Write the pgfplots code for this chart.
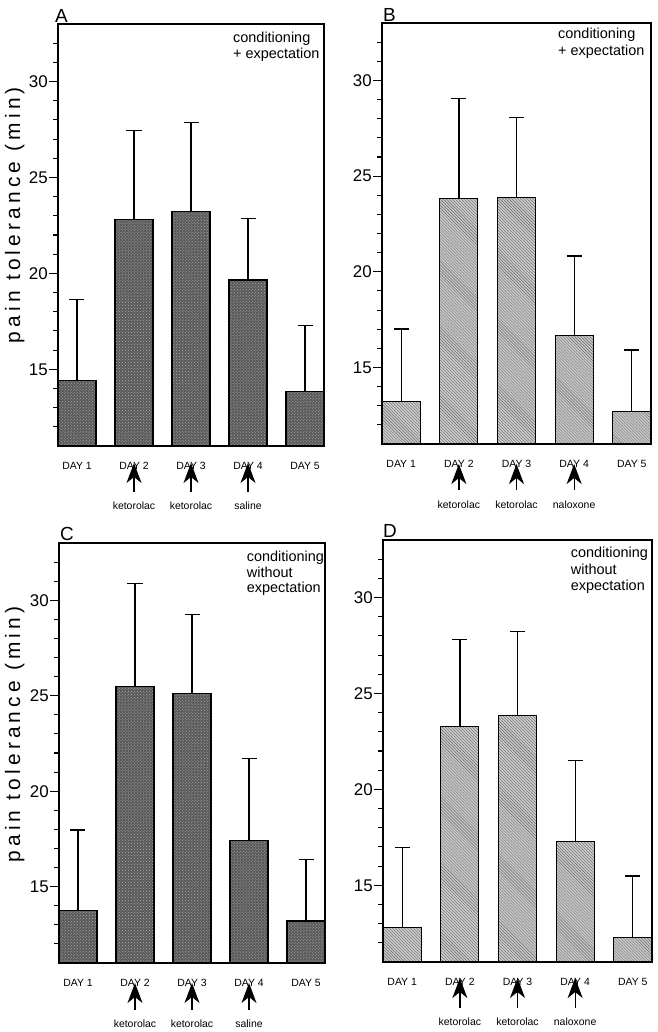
\documentclass[border=0pt]{standalone}
\usepackage{fontspec}
\setmainfont{Liberation Sans}
\newfontfamily\spacedfont[LetterSpace=20]{Liberation Sans}
\usepackage{pgfplots}
\pgfplotsset{compat=1.18}
\usetikzlibrary{arrows.meta,patterns}

\pgfplotsset{
  panel/.style={
    scale only axis,
    ymin=11, ymax=33, xmin=-0.3333, xmax=4.3333,
    ytick={15,20,25,30}, minor ytick={12,...,32},
    ytick pos=left, yticklabel pos=left, tick align=outside,
    major tick length=9bp, minor tick length=5bp,
    xtick={0,...,4}, xticklabels={DAY 1,DAY 2,DAY 3,DAY 4,DAY 5},
    xtick style={draw=none},
    every tick/.style={line width=1.1bp, black},
    axis line style={line width=1.2bp},
    yticklabel style={font=\fontsize{17}{17}\selectfont, anchor=east, inner sep=1bp},
    xticklabel style={font=\fontsize{10.5}{10.5}\selectfont, anchor=base, inner sep=0pt, yshift=-14bp},
    /pgf/number format/assume math mode=true,
    clip mode=individual,
    bar width=38bp,
  },
  darkbar/.style={ybar, fill=black!65, draw=black, line width=1.2bp,
    postaction={pattern=crosshatch dots, pattern color=black!30}},
  hatchbar/.style={ybar, fill=black!20, draw=black, line width=1.2bp,
    postaction={pattern=north west lines, pattern color=black!60}},
  errs/.style={error bars/.cd, y dir=plus, y explicit,
    error bar style={line width=1.3bp, black},
    error mark options={rotate=90, black, line width=1.3bp, mark size=7.5bp}},
}
\tikzset{
  arr/.style={-{Stealth[length=20bp,width=15bp,inset=6bp]}, line width=1.3bp},
  drug/.style={anchor=base, font=\fontsize{10.5}{10.5}\selectfont},
  note/.style={anchor=base west, font=\fontsize{14.5}{14.5}\selectfont, inner sep=0pt},
  letter/.style={anchor=base west, font=\fontsize{19}{19}\selectfont, inner sep=0pt},
  ylab/.style={rotate=90, anchor=base, inner sep=0pt, font=\spacedfont\fontsize{21}{21}\selectfont},
}

\begin{document}
\begin{tikzpicture}
\path[use as bounding box] (0,0) rectangle (658bp,-1032bp);

% A
\begin{axis}[panel, width=266bp, height=422bp, at={(58bp,-446bp)}, anchor=south west]
\addplot[darkbar, errs] coordinates {
 (0,14.42) +- (0,4.21)
 (1,22.82) +- (0,4.61)
 (2,23.24) +- (0,4.63)
 (3,19.65) +- (0,3.22)
 (4,13.85) +- (0,3.42)
};
\draw[arr] ([yshift=-46bp]axis cs:1,11) -- ([yshift=-17bp]axis cs:1,11);
\draw[arr] ([yshift=-46bp]axis cs:2,11) -- ([yshift=-17bp]axis cs:2,11);
\draw[arr] ([yshift=-46bp]axis cs:3,11) -- ([yshift=-17bp]axis cs:3,11);
\node[drug] at ([yshift=-63bp]axis cs:1,11) {ketorolac};
\node[drug] at ([yshift=-63bp]axis cs:2,11) {ketorolac};
\node[drug] at ([yshift=-63bp]axis cs:3,11) {saline};
\end{axis}

% B
\begin{axis}[panel, width=269bp, height=421bp, at={(382bp,-444bp)}, anchor=south west]
\addplot[hatchbar, errs] coordinates {
 (0,13.21) +- (0,3.80)
 (1,23.85) +- (0,5.20)
 (2,23.89) +- (0,4.17)
 (3,16.68) +- (0,4.15)
 (4,12.71) +- (0,3.21)
};
\draw[arr] ([yshift=-46bp]axis cs:1,11) -- ([yshift=-20bp]axis cs:1,11);
\draw[arr] ([yshift=-46bp]axis cs:2,11) -- ([yshift=-20bp]axis cs:2,11);
\draw[arr] ([yshift=-46bp]axis cs:3,11) -- ([yshift=-20bp]axis cs:3,11);
\node[drug] at ([yshift=-64bp]axis cs:1,11) {ketorolac};
\node[drug] at ([yshift=-64bp]axis cs:2,11) {ketorolac};
\node[drug] at ([yshift=-64bp]axis cs:3,11) {naloxone};
\end{axis}

% C
\begin{axis}[panel, width=266bp, height=420bp, at={(59bp,-963bp)}, anchor=south west]
\addplot[darkbar, errs] coordinates {
 (0,13.76) +- (0,4.21)
 (1,25.47) +- (0,5.40)
 (2,25.12) +- (0,4.13)
 (3,17.41) +- (0,4.31)
 (4,13.20) +- (0,3.23)
};
\draw[arr] ([yshift=-47bp]axis cs:1,11) -- ([yshift=-20bp]axis cs:1,11);
\draw[arr] ([yshift=-47bp]axis cs:2,11) -- ([yshift=-20bp]axis cs:2,11);
\draw[arr] ([yshift=-47bp]axis cs:3,11) -- ([yshift=-20bp]axis cs:3,11);
\node[drug] at ([yshift=-64bp]axis cs:1,11) {ketorolac};
\node[drug] at ([yshift=-64bp]axis cs:2,11) {ketorolac};
\node[drug] at ([yshift=-64bp]axis cs:3,11) {saline};
\end{axis}

% D
\begin{axis}[panel, width=269bp, height=422bp, at={(383bp,-962bp)}, anchor=south west]
\addplot[hatchbar, errs] coordinates {
 (0,12.81) +- (0,4.17)
 (1,23.27) +- (0,4.56)
 (2,23.87) +- (0,4.36)
 (3,17.28) +- (0,4.23)
 (4,12.29) +- (0,3.20)
};
\draw[arr] ([yshift=-46bp]axis cs:1,11) -- ([yshift=-16bp]axis cs:1,11);
\draw[arr] ([yshift=-46bp]axis cs:2,11) -- ([yshift=-16bp]axis cs:2,11);
\draw[arr] ([yshift=-46bp]axis cs:3,11) -- ([yshift=-16bp]axis cs:3,11);
\node[drug] at ([yshift=-63bp]axis cs:1,11) {ketorolac};
\node[drug] at ([yshift=-63bp]axis cs:2,11) {ketorolac};
\node[drug] at ([yshift=-63bp]axis cs:3,11) {naloxone};
\end{axis}

% panel letters
\node[letter] at (55bp,-22bp) {A};
\node[letter] at (383bp,-21bp) {B};
\node[letter] at (60bp,-540bp) {C};
\node[letter] at (383bp,-537bp) {D};

% notes
\node[note] at (233bp,-42.7bp) {conditioning};
\node[note] at (233bp,-58.5bp) {+ expectation};
\node[note] at (558bp,-38.5bp) {conditioning};
\node[note] at (558bp,-55bp) {+ expectation};
\node[note] at (246.7bp,-561.7bp) {conditioning};
\node[note] at (246.7bp,-577bp) {without};
\node[note] at (246.7bp,-592.7bp) {expectation};
\node[note] at (570.7bp,-557bp) {conditioning};
\node[note] at (570.7bp,-574bp) {without};
\node[note] at (570.7bp,-590.7bp) {expectation};

% y labels
\node[ylab] at (20bp,-215bp) {pain tolerance (min)};
\node[ylab] at (20bp,-734.5bp) {pain tolerance (min)};
\end{tikzpicture}
\end{document}
